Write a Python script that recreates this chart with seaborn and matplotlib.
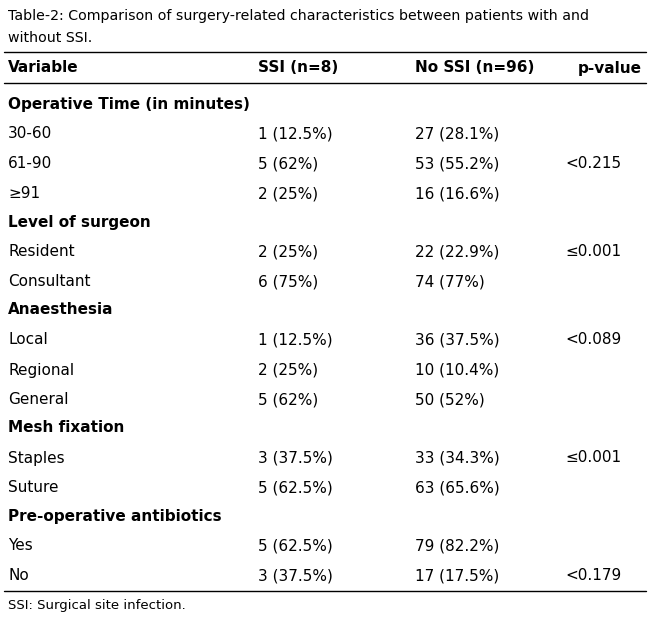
import matplotlib.pyplot as plt
import seaborn as sns

title = ["Table-2: Comparison of surgery-related characteristics between patients with and",
         "without SSI."]
header = ["Variable", "SSI (n=8)", "No SSI (n=96)", "p-value"]
groups = [
    ("Operative Time (in minutes)", [
        ("30-60", "1 (12.5%)", "27 (28.1%)", ""),
        ("61-90", "5 (62%)", "53 (55.2%)", "<0.215"),
        ("≥91", "2 (25%)", "16 (16.6%)", ""),
    ]),
    ("Level of surgeon", [
        ("Resident", "2 (25%)", "22 (22.9%)", "≤0.001"),
        ("Consultant", "6 (75%)", "74 (77%)", ""),
    ]),
    ("Anaesthesia", [
        ("Local", "1 (12.5%)", "36 (37.5%)", "<0.089"),
        ("Regional", "2 (25%)", "10 (10.4%)", ""),
        ("General", "5 (62%)", "50 (52%)", ""),
    ]),
    ("Mesh fixation", [
        ("Staples", "3 (37.5%)", "33 (34.3%)", "≤0.001"),
        ("Suture", "5 (62.5%)", "63 (65.6%)", ""),
    ]),
    ("Pre-operative antibiotics", [
        ("Yes", "5 (62.5%)", "79 (82.2%)", ""),
        ("No", "3 (37.5%)", "17 (17.5%)", "<0.179"),
    ]),
]
footnote = "SSI: Surgical site infection."

sns.set_style("white")
plt.rcParams['font.family'] = ['Liberation Sans Narrow', 'DejaVu Sans']
plt.rcParams['text.color'] = 'black'

W, H = 650, 619
fig = plt.figure(figsize=(6.5, 6.19), dpi=100)
ax = fig.add_axes([0, 0, 1, 1])
ax.set_xlim(0, W)
ax.set_ylim(H, 0)
ax.axis('off')

fs = 11
ax.text(8, 16, title[0], fontsize=10.2, va='center')
ax.text(8, 38, title[1], fontsize=10.2, va='center')
ax.plot([4, 646], [52, 52], color='black', lw=1)
cols = [8, 258, 415, 578]
for x, h in zip(cols, header):
    ax.text(x, 68, h, fontsize=fs, fontweight='bold', va='center')
ax.plot([4, 646], [83, 83], color='black', lw=1)

y = 104
for gname, rows in groups:
    ax.text(8, y, gname, fontsize=fs, fontweight='bold', va='center')
    y += 30
    for r in rows:
        ax.text(8, y, r[0], fontsize=fs, va='center')
        ax.text(258, y, r[1], fontsize=fs, va='center')
        ax.text(415, y, r[2], fontsize=fs, va='center')
        ax.text(565, y, r[3], fontsize=fs, va='center')
        y += 30
    y -= 2
ax.plot([4, 646], [591, 591], color='black', lw=1)
ax.text(8, 606, footnote, fontsize=9.5, va='center')

fig.savefig("out.png", dpi=100)
